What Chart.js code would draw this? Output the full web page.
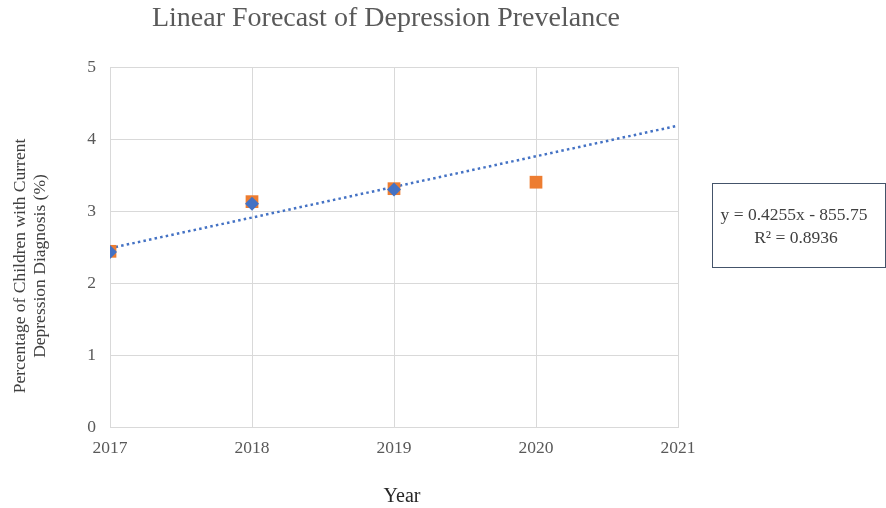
<!DOCTYPE html>
<html>
<head>
<meta charset="utf-8">
<script src="https://cdn.jsdelivr.net/npm/chart.js@4/dist/chart.umd.min.js"></script>
<style>
  html, body { margin: 0; padding: 0; background: #ffffff; }
  #wrap { position: relative; width: 886px; height: 508px; }
  #eqBox {
    position: absolute; left: 712px; top: 183px; width: 172px; height: 83px;
    border: 1px solid #44546a; background: #fff;
    font-family: "Liberation Serif", "Times New Roman", serif; font-size: 17.5px; color: #404040;
    text-align: center; box-sizing: content-box;
  }
  #eqBox div { position: absolute; width: 100%; line-height: 20px; white-space: nowrap; }
</style>
</head>
<body>
<div id="wrap">
  <canvas id="chart" width="886" height="508"></canvas>
  <div id="eqBox">
    <div style="top:20px; left:-5px;">y = 0.4255x - 855.75</div>
    <div style="top:43px; left:-3px;">R² = 0.8936</div>
  </div>
</div>
<script>
// Observed prevalence (%) by year
const years = [2017, 2018, 2019, 2020];
const reportedSeries = [2.43, 3.10, 3.30];          // blue diamonds (2017-2019)
const forecastSeries = [2.44, 3.13, 3.31, 3.40];    // orange squares (2017-2020)

// Linear trendline: y = 0.4255x - 855.75, drawn across the forecast range
const trendSlope = 0.4255;
const trendIntercept = -855.75;
const trendYears = [2017, 2021];

const xTicks = [2017, 2018, 2019, 2020, 2021];
const yTicks = [0, 1, 2, 3, 4, 5];

const serif = '"Liberation Serif", "Times New Roman", serif';
const textGray = '#595959';

const toPoints = (xs, ys) => ys.map((v, i) => ({ x: xs[i], y: v }));
const trendPoints = trendYears.map(x => ({ x: x, y: trendSlope * x + trendIntercept }));

// Chart and axis titles drawn at fixed spots around the plot area
const titlesPlugin = {
  id: 'titles',
  afterDraw(chart) {
    const ctx = chart.ctx;
    ctx.save();
    ctx.fillStyle = textGray;
    ctx.textAlign = 'center';
    ctx.textBaseline = 'middle';
    ctx.font = '28px ' + serif;
    ctx.fillText('Linear Forecast of Depression Prevelance', 386, 19);

    ctx.fillStyle = '#262626';
    ctx.font = '20px ' + serif;
    ctx.fillText('Year', 402, 497);

    ctx.fillStyle = '#404040';
    ctx.font = '17.5px ' + serif;
    ctx.translate(0, 266);
    ctx.rotate(-Math.PI / 2);
    ctx.fillText('Percentage of Children with Current', 0, 20);
    ctx.fillText('Depression Diagnosis (%)', 0, 40);
    ctx.restore();
  }
};

new Chart(document.getElementById('chart'), {
  type: 'scatter',
  data: {
    datasets: [
      {
        label: 'Reported',
        data: toPoints(years, reportedSeries),
        pointStyle: 'rectRot',
        pointRadius: 7,
        pointHoverRadius: 7,
        backgroundColor: '#4472c4',
        borderColor: '#4472c4',
        borderWidth: 0
      },
      {
        label: 'Forecast',
        data: toPoints(years, forecastSeries),
        pointStyle: 'rect',
        pointRadius: 9,
        pointHoverRadius: 9,
        backgroundColor: '#ed7d31',
        borderColor: '#ed7d31',
        borderWidth: 0
      },
      {
        label: 'Linear trend',
        type: 'line',
        data: trendPoints,
        borderColor: '#4472c4',
        borderWidth: 2.5,
        borderDash: [2.5, 3.2],
        pointRadius: 0,
        fill: false,
        tension: 0
      }
    ]
  },
  options: {
    responsive: false,
    animation: false,
    layout: { padding: { top: 67, right: 208, left: 0, bottom: 0 } },
    plugins: {
      legend: { display: false },
      title: { display: false },
      tooltip: { enabled: false }
    },
    scales: {
      x: {
        type: 'linear',
        min: xTicks[0],
        max: xTicks[xTicks.length - 1],
        afterBuildTicks: s => { s.ticks = xTicks.map(v => ({ value: v })); },
        afterFit: s => { s.height = 81; },
        grid: { color: '#d9d9d9', lineWidth: 1, drawTicks: false },
        border: { color: '#d9d9d9' },
        ticks: {
          padding: 11,
          color: textGray,
          font: { family: serif, size: 17.5 },
          callback: v => String(v)
        }
      },
      y: {
        min: yTicks[0],
        max: yTicks[yTicks.length - 1],
        afterBuildTicks: s => { s.ticks = yTicks.map(v => ({ value: v })); },
        afterFit: s => { s.width = 110; },
        grid: { color: '#d9d9d9', lineWidth: 1, drawTicks: false },
        border: { color: '#d9d9d9' },
        ticks: {
          padding: 14,
          color: textGray,
          font: { family: serif, size: 17.5 }
        }
      }
    }
  },
  plugins: [titlesPlugin]
});
</script>
</body>
</html>
